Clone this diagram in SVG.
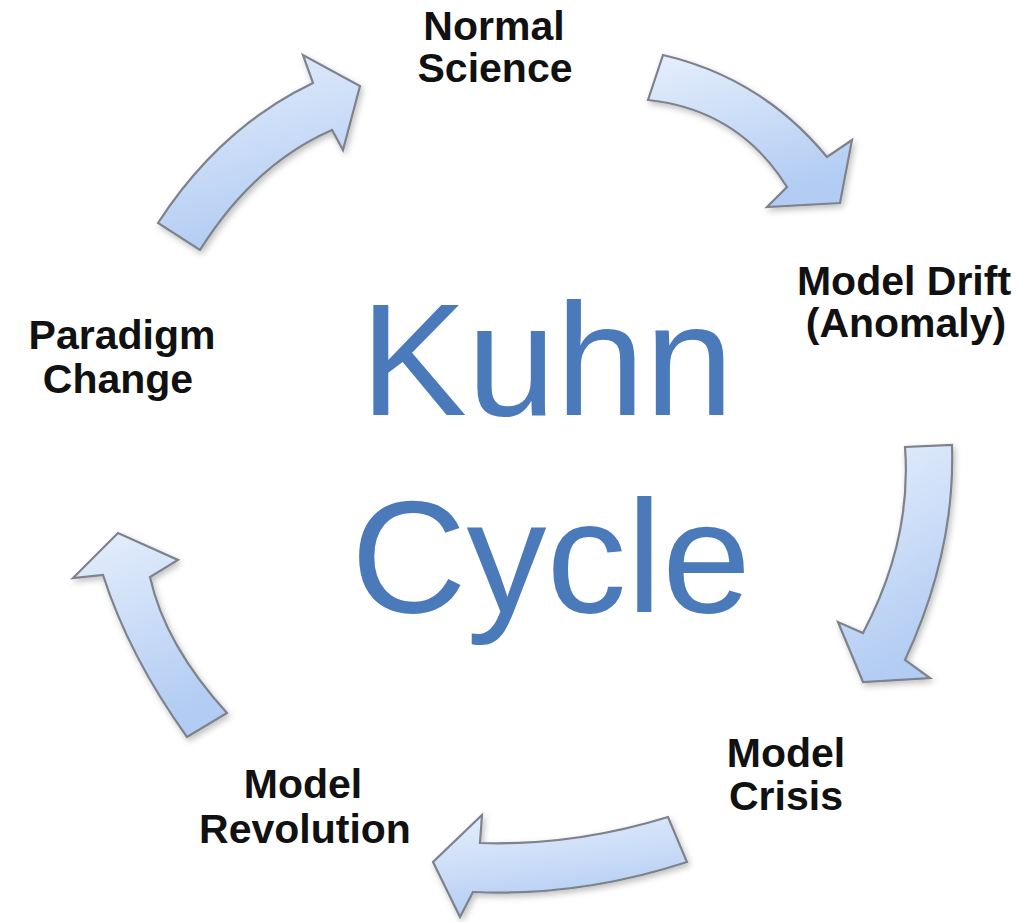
<svg xmlns="http://www.w3.org/2000/svg" width="1031" height="922" viewBox="0 0 1031 922">
  <defs>
    <linearGradient id="arrowFill" x1="0" y1="0" x2="0.3" y2="1">
      <stop offset="0" stop-color="#e6effc"/>
      <stop offset="1" stop-color="#b2ccf3"/>
    </linearGradient>
    <filter id="shadow" x="-20%" y="-20%" width="140%" height="140%">
      <feDropShadow dx="2" dy="3" stdDeviation="3" flood-color="#000" flood-opacity="0.25"/>
    </filter>
  </defs>
  <style>
    .arrow { fill: url(#arrowFill); stroke: #7d828c; stroke-width: 2.2; stroke-linejoin: miter; filter: url(#shadow); }
    .label { font-family: "Liberation Sans", Arial, sans-serif; font-weight: bold; font-size: 41px; fill: #111; text-anchor: middle; }
    .title { font-family: "Liberation Sans", Arial, sans-serif; font-size: 160px; fill: #4b7aba; text-anchor: middle; }
  </style>
  <rect width="1031" height="922" fill="#ffffff"/>

  <g id="connectors">
    <path id="arrow-normal-to-drift" class="arrow" d="M 663,55 Q 762,78 827,157 L 852,140 L 840,203 L 767,207 L 787,187 Q 738.5,109.5 648,100 Z"/>
    <path id="arrow-drift-to-crisis" class="arrow" d="M 952,445 Q 955.5,551.5 905,660 L 930,678 L 863,682 L 838,622 L 863,633 Q 912,540 905,447 Z"/>
    <path id="arrow-crisis-to-revolution" class="arrow" d="M 668,817 Q 574,846 480,843 L 482,815 L 433,862 L 460,917 L 473,892 Q 580,897 687,862 Z"/>
    <path id="arrow-revolution-to-paradigm" class="arrow" d="M 187,737 Q 129,656 103,575 L 73,578 L 118,533 L 178,560 L 150,577 Q 165,645 227,713 Z"/>
    <path id="arrow-paradigm-to-normal" class="arrow" d="M 158,223 Q 220.5,127 313,83 L 303,55 L 360,86 L 343,150 L 332,130 Q 254,164 200,250 Z"/>
  </g>

  <g id="title">
    <text class="title" x="547" y="415">Kuhn</text>
    <text class="title" x="551" y="612">Cycle</text>
  </g>

  <g id="node-normal-science">
    <text class="label" x="494" y="40">Normal</text>
    <text class="label" x="495" y="82">Science</text>
  </g>
  <g id="node-model-drift">
    <text class="label" x="904" y="295">Model Drift</text>
    <text class="label" x="906" y="337">(Anomaly)</text>
  </g>
  <g id="node-model-crisis">
    <text class="label" x="786" y="767">Model</text>
    <text class="label" x="786" y="810">Crisis</text>
  </g>
  <g id="node-model-revolution">
    <text class="label" x="303" y="798">Model</text>
    <text class="label" x="305" y="843">Revolution</text>
  </g>
  <g id="node-paradigm-change">
    <text class="label" x="122" y="349">Paradigm</text>
    <text class="label" x="118" y="393">Change</text>
  </g>
</svg>
